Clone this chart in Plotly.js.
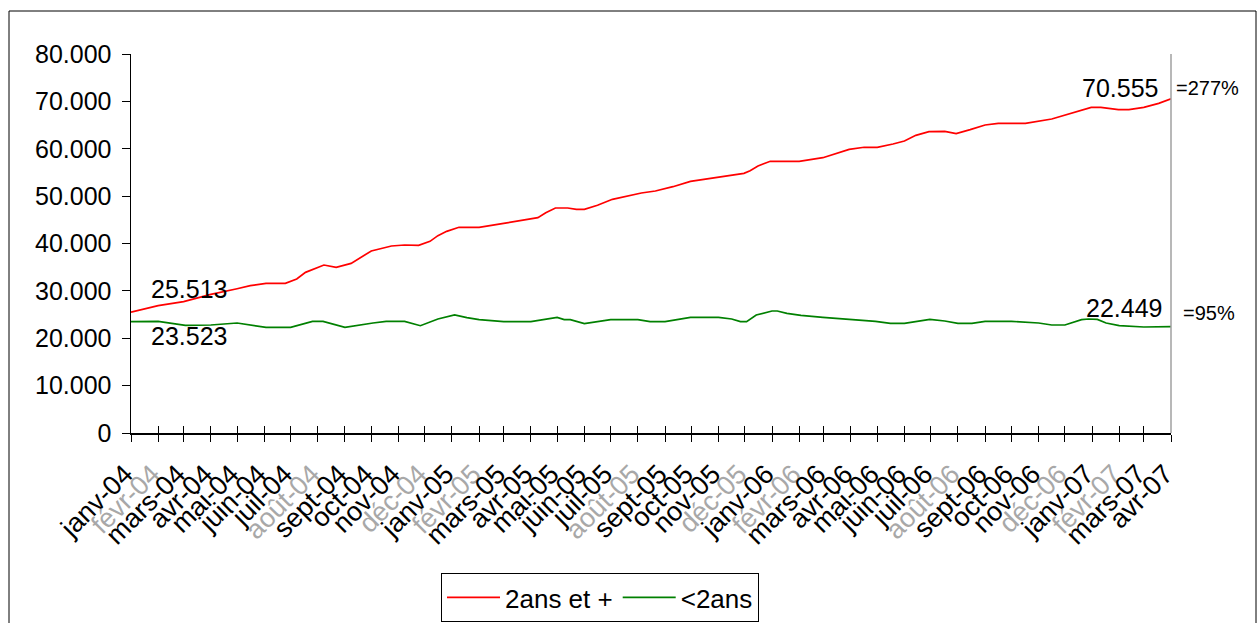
<!DOCTYPE html>
<html>
<head>
<meta charset="utf-8">
<script src="https://cdn.plot.ly/plotly-3.0.1.min.js"></script>
<style>
html,body{margin:0;padding:0;background:#fff;}
#chart{width:1259px;height:623px;}
</style>
</head>
<body>
<div id="chart"></div>
<script>
// ---- Data ----
const tickLabels = [
  'janv-04','févr-04','mars-04','avr-04','mai-04','juin-04','juil-04','août-04','sept-04','oct-04','nov-04','déc-04',
  'janv-05','févr-05','mars-05','avr-05','mai-05','juin-05','juil-05','août-05','sept-05','oct-05','nov-05','déc-05',
  'janv-06','févr-06','mars-06','avr-06','mai-06','juin-06','juil-06','août-06','sept-06','oct-06','nov-06','déc-06',
  'janv-07','févr-07','mars-07','avr-07'
];
const fadedMonths = ['févr','août','déc'];

const seriesNames = ['2ans et +', '<2ans'];

const redDates = [
  '2004-01-01','2004-02-01','2004-03-01','2004-04-01','2004-05-01','2004-05-16','2004-06-03','2004-06-25',
  '2004-07-08','2004-07-18','2004-08-08','2004-08-22','2004-09-08','2004-10-01','2004-10-24','2004-11-08',
  '2004-11-24','2004-12-07','2004-12-16','2004-12-26','2005-01-09','2005-02-01','2005-03-01','2005-04-03',
  '2005-04-09','2005-04-18','2005-04-29','2005-05-13','2005-05-23','2005-06-01','2005-06-16','2005-07-03',
  '2005-07-21','2005-08-05','2005-08-21','2005-09-10','2005-09-30','2005-10-30','2005-11-30','2005-12-07',
  '2005-12-16','2005-12-30','2006-02-01','2006-02-28','2006-03-15','2006-03-30','2006-04-16','2006-05-01',
  '2006-05-19','2006-06-01','2006-06-14','2006-06-29','2006-07-17','2006-07-30','2006-08-15','2006-09-01',
  '2006-09-16','2006-10-17','2006-11-16','2006-12-09','2006-12-31','2007-01-11','2007-01-31','2007-02-12',
  '2007-03-01','2007-03-18','2007-04-01'
];
const redValues = [
  25513,26880,27720,29270,30450,31100,31590,31590,
  32510,33910,35460,34970,35810,38420,39470,39680,
  39610,40460,41650,42570,43420,43420,44260,45170,
  45450,46500,47490,47490,47210,47210,48060,49330,
  50030,50660,51080,51990,53120,53970,54810,55370,
  56360,57350,57350,58110,59040,59880,60310,60310,
  61000,61640,62830,63600,63670,63180,64030,65010,
  65370,65370,66280,67610,68740,68740,68250,68250,
  68740,69590,70555
];

const greenDates = [
  '2004-01-01','2004-02-01','2004-03-03','2004-04-01','2004-05-01','2004-06-03','2004-07-01','2004-07-26',
  '2004-08-07','2004-09-01','2004-10-03','2004-10-18','2004-11-08','2004-11-26','2004-12-16','2005-01-04',
  '2005-01-18','2005-02-01','2005-03-01','2005-04-01','2005-05-01','2005-05-09','2005-05-16','2005-06-01',
  '2005-07-01','2005-08-01','2005-08-15','2005-09-01','2005-09-30','2005-11-01','2005-11-16','2005-11-26',
  '2005-12-03','2005-12-14','2006-01-01','2006-01-07','2006-01-18','2006-02-03','2006-02-28','2006-03-30',
  '2006-04-29','2006-05-16','2006-06-01','2006-06-30','2006-07-17','2006-08-01','2006-08-17','2006-09-01',
  '2006-10-01','2006-11-01','2006-11-16','2006-12-01','2006-12-20','2006-12-28','2007-01-07','2007-01-17',
  '2007-02-01','2007-03-01','2007-04-01'
];
const greenValues = [
  23523,23570,22720,22800,23220,22300,22300,23570,
  23570,22300,23220,23570,23570,22650,24060,24910,
  24340,23920,23500,23500,24410,23920,23920,23080,
  23920,23920,23500,23500,24410,24410,24060,23500,
  23500,24910,25750,25750,25260,24840,24410,23990,
  23570,23150,23150,23990,23640,23150,23150,23570,
  23570,23220,22800,22800,23920,24060,23990,23220,
  22650,22370,22449
];

// ---- Layout helpers ----
const W = 1259, H = 623;
const M = {l: 131, r: 88, t: 54, b: 190};
const PW = W - M.l - M.r, PH = H - M.t - M.b;
const px = x => (x - M.l) / PW;
const py = y => (H - M.b - y) / PH;

const FONT = 'Liberation Sans, Arial, sans-serif';

const tickVals = tickLabels.map((_, i) => {
  const y = 2004 + Math.floor(i / 12), m = (i % 12) + 1;
  return y + '-' + String(m).padStart(2, '0') + '-01';
});
const tickText = tickLabels.map(t =>
  fadedMonths.some(f => t.startsWith(f)) ? '<span style="color:#a8a8a8">' + t + '</span>' : t
);

const fmt = v => String(v).replace(/\B(?=(\d{3})+(?!\d))/g, '.');
const pct = (a, b) => '=' + Math.round(b / a * 100) + '%';

const xRange = [tickVals[0], tickVals[tickVals.length - 1]];

const traces = [
  {x: redDates, y: redValues, name: seriesNames[0], type: 'scatter', mode: 'lines',
   line: {color: '#ff0000', width: 1.7}, hoverinfo: 'x+y'},
  {x: greenDates, y: greenValues, name: seriesNames[1], type: 'scatter', mode: 'lines',
   line: {color: '#008000', width: 1.7}, hoverinfo: 'x+y'},
  {x: [], y: [], xaxis: 'x2', showlegend: false, hoverinfo: 'skip', type: 'scatter', mode: 'lines'}
];

const rl = redValues.length - 1, gl = greenValues.length - 1;

const layout = {
  width: W, height: H,
  margin: M,
  paper_bgcolor: '#ffffff', plot_bgcolor: '#ffffff',
  separators: ',.',
  font: {family: FONT, color: '#000', size: 24},
  showlegend: true,
  legend: {
    orientation: 'h', xref: 'container', yref: 'container',
    x: 441 / W, y: 1 - 573 / H, xanchor: 'left', yanchor: 'top',
    bordercolor: '#000', borderwidth: 1, bgcolor: '#fff',
    font: {family: FONT, size: 26, color: '#000'},
    itemwidth: 53, tracegroupgap: 0
  },
  xaxis: {
    type: 'date', range: xRange, tickmode: 'array', tickvals: tickVals, ticktext: tickText,
    tickangle: -45, ticks: 'outside', ticklen: 7, tickwidth: 1, tickcolor: '#000',
    ticklabelstandoff: 6, ticklabelshift: -6, automargin: false,
    showline: true, linecolor: '#000', linewidth: 1.5, showgrid: false, zeroline: false,
    tickfont: {family: FONT, size: 27, color: '#000'}, fixedrange: true
  },
  xaxis2: {
    type: 'date', range: xRange, overlaying: 'x', tickmode: 'array', tickvals: tickVals,
    ticks: 'inside', ticklen: 7, tickwidth: 1, tickcolor: '#000', showticklabels: false,
    showline: false, showgrid: false, zeroline: false, anchor: 'y', side: 'bottom',
    automargin: false, fixedrange: true
  },
  yaxis: {
    range: [0, 80000], tickmode: 'linear', tick0: 0, dtick: 10000, tickformat: ',d',
    ticks: 'outside', ticklen: 8, tickwidth: 1, tickcolor: '#000', ticklabelstandoff: 5,
    automargin: false,
    showline: true, linecolor: '#000', linewidth: 1.5, showgrid: false, zeroline: false,
    tickfont: {family: FONT, size: 25, color: '#000'}, fixedrange: true
  },
  shapes: [
    {type: 'line', xref: 'paper', yref: 'paper', x0: 1, x1: 1, y0: 0, y1: 1,
     line: {color: '#a0a0a0', width: 1.5}},
    {type: 'rect', xref: 'paper', yref: 'paper', x0: px(9), x1: px(1256), y0: py(660), y1: py(11),
     line: {color: '#000', width: 1}, fillcolor: 'rgba(0,0,0,0)', layer: 'below'}
  ],
  annotations: [
    {x: redDates[0], y: redValues[0], text: fmt(redValues[0]), showarrow: false,
     xanchor: 'left', yanchor: 'middle', xshift: 18, yshift: 23, font: {size: 25}},
    {x: greenDates[0], y: greenValues[0], text: fmt(greenValues[0]), showarrow: false,
     xanchor: 'left', yanchor: 'middle', xshift: 18, yshift: -14, font: {size: 25}},
    {x: redDates[rl], y: redValues[rl], text: fmt(redValues[rl]), showarrow: false,
     xanchor: 'right', yanchor: 'middle', xshift: -11, yshift: 11, font: {size: 25}},
    {x: greenDates[gl], y: greenValues[gl], text: fmt(greenValues[gl]), showarrow: false,
     xanchor: 'right', yanchor: 'middle', xshift: -7, yshift: 19, font: {size: 25}},
    {x: redDates[rl], y: redValues[rl], text: pct(redValues[0], redValues[rl]), showarrow: false,
     xanchor: 'left', yanchor: 'middle', xshift: 3, yshift: 11, font: {size: 20}},
    {x: greenDates[gl], y: greenValues[gl], text: pct(greenValues[0], greenValues[gl]), showarrow: false,
     xanchor: 'left', yanchor: 'middle', xshift: 10, yshift: 14, font: {size: 20}}
  ]
};

Plotly.newPlot('chart', traces, layout, {displayModeBar: false, staticPlot: true});
</script>
</body>
</html>
